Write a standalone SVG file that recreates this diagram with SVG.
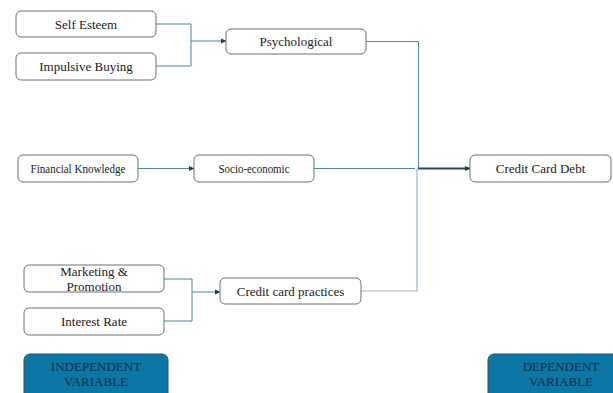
<svg xmlns="http://www.w3.org/2000/svg" width="613" height="393" viewBox="0 0 613 393">
<style>
.box{fill:#fff;stroke:#6e6e6e;stroke-width:1}
.var{fill:#0a77a7;stroke:#3a4a55;stroke-width:1}
.t{font-size:13px;fill:#1a1a1a;text-anchor:middle}
.vt{font-size:13px;fill:#0d2a3f;text-anchor:middle}
.c{fill:none;stroke:#4d8597;stroke-width:1}
.cl{fill:none;stroke:#9bbac6;stroke-width:1.2}
.ct{fill:none;stroke:#1c4a5e;stroke-width:2}
</style>
<defs>
<marker id="ah" markerWidth="6" markerHeight="6" refX="5" refY="3" orient="auto" markerUnits="userSpaceOnUse">
<path d="M0,0.5 L5.5,3 L0,5.5 Z" fill="#1c3f52"/>
</marker>
</defs>
<g id="connectors">
<path class="c" d="M156,24 H191 V66 H156"/>
<path class="c" d="M191,41 H226" marker-end="url(#ah)"/>
<path class="c" d="M138,168.5 H194" marker-end="url(#ah)"/>
<path class="c" d="M164,279 H192 V321 H164"/>
<path class="c" d="M192,292 H220" marker-end="url(#ah)"/>
<path class="c" d="M366,41.5 H418.5 V168"/>
<path class="c" d="M314,168.5 H415"/>
<path class="cl" d="M361,291 H417 V168.5"/>
<path class="ct" d="M418,168.5 H470" marker-end="url(#ah)"/>
</g>
<g font-family="Liberation Serif, Times New Roman, serif">
<g id="self-esteem">
<rect class="box" x="16" y="11" width="140" height="26" rx="5"/>
<text class="t" x="86" y="28.5">Self Esteem</text>
</g>
<g id="impulsive-buying">
<rect class="box" x="16" y="53" width="140" height="27" rx="5"/>
<text class="t" x="86" y="71">Impulsive Buying</text>
</g>
<g id="psychological">
<rect class="box" x="226" y="29" width="140" height="25" rx="5"/>
<text class="t" x="296" y="46">Psychological</text>
</g>
<g id="financial-knowledge">
<rect class="box" x="18" y="155" width="120" height="27" rx="5"/>
<text class="t" x="78" y="173" textLength="95" lengthAdjust="spacingAndGlyphs">Financial Knowledge</text>
</g>
<g id="socio-economic">
<rect class="box" x="194" y="155" width="120" height="27" rx="5"/>
<text class="t" x="254" y="173" textLength="71" lengthAdjust="spacingAndGlyphs">Socio-economic</text>
</g>
<g id="credit-card-debt">
<rect class="box" x="470" y="155" width="141" height="27" rx="5"/>
<text class="t" x="540.5" y="173">Credit Card Debt</text>
</g>
<g id="marketing-promotion">
<rect class="box" x="24" y="265" width="140" height="27" rx="5"/>
<text class="t" x="94" y="276">Marketing &amp;</text>
<text class="t" x="94" y="291">Promotion</text>
</g>
<g id="interest-rate">
<rect class="box" x="24" y="308" width="140" height="27" rx="5"/>
<text class="t" x="94" y="326">Interest Rate</text>
</g>
<g id="credit-card-practices">
<rect class="box" x="220" y="278" width="141" height="26" rx="5"/>
<text class="t" x="290.5" y="296">Credit card practices</text>
</g>
<g id="independent-variable">
<rect class="var" x="24" y="354" width="144" height="50" rx="6"/>
<text class="vt" x="96" y="371">INDEPENDENT</text>
<text class="vt" x="96" y="386">VARIABLE</text>
</g>
<g id="dependent-variable">
<rect class="var" x="488" y="354" width="140" height="50" rx="6"/>
<text class="vt" x="561" y="371">DEPENDENT</text>
<text class="vt" x="561" y="386">VARIABLE</text>
</g>
</g>
</svg>
